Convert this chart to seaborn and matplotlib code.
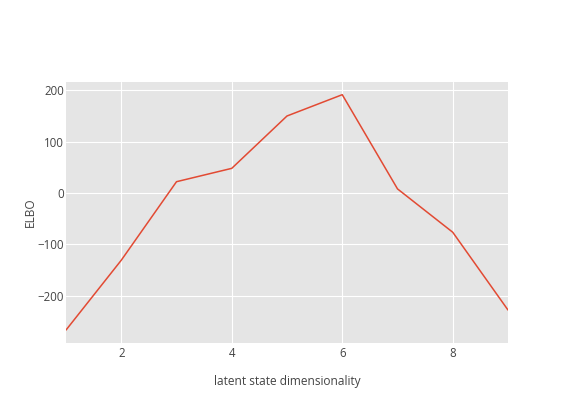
import numpy as np
import pandas as pd
import seaborn as sns
import matplotlib
matplotlib.use("Agg")
import matplotlib.pyplot as plt

dims = [1, 2, 3, 4, 5, 6, 7, 8, 9]
elbo = [-267, -131, 22, 48, 150, 191.5, 8, -76.5, -228]

df = pd.DataFrame({"dim": dims, "elbo": elbo})

sns.set_style("darkgrid", {"axes.facecolor": "#e5e5e5", "grid.color": "white"})
plt.rcParams["font.family"] = ["Open Sans", "DejaVu Sans"]

fig = plt.figure(figsize=(5.74, 4.09), dpi=100)
ax = fig.add_axes([66 / 574, 1 - 343.3 / 409, (508 - 66) / 574, (343.3 - 81.7) / 409])

sns.lineplot(data=df, x="dim", y="elbo", ax=ax, color="#e24a33", linewidth=1.1)

ax.set_xlim(1, 9)
ax.set_ylim(-292.8, 216.8)
ax.set_xticks([2, 4, 6, 8])
ax.set_yticks([-200, -100, 0, 100, 200])
ax.tick_params(axis="both", length=0, labelsize=8.3, colors="#444444")
ax.tick_params(axis="x", pad=3)
ax.tick_params(axis="y", pad=1.5)
ax.grid(True, color="white", linewidth=0.8)
for s in ax.spines.values():
    s.set_visible(False)

ax.set_xlabel("latent state dimensionality", fontsize=8.6, color="#444444", va="center")
ax.set_ylabel("ELBO", fontsize=8.6, color="#444444", va="center")
# place axis titles where the reference has them
ax.xaxis.set_label_coords(0.5, (343.3 - 382) / 261.6)
ax.yaxis.set_label_coords((30 - 66) / 442, 0.5)

fig.savefig("out.png", dpi=100)
